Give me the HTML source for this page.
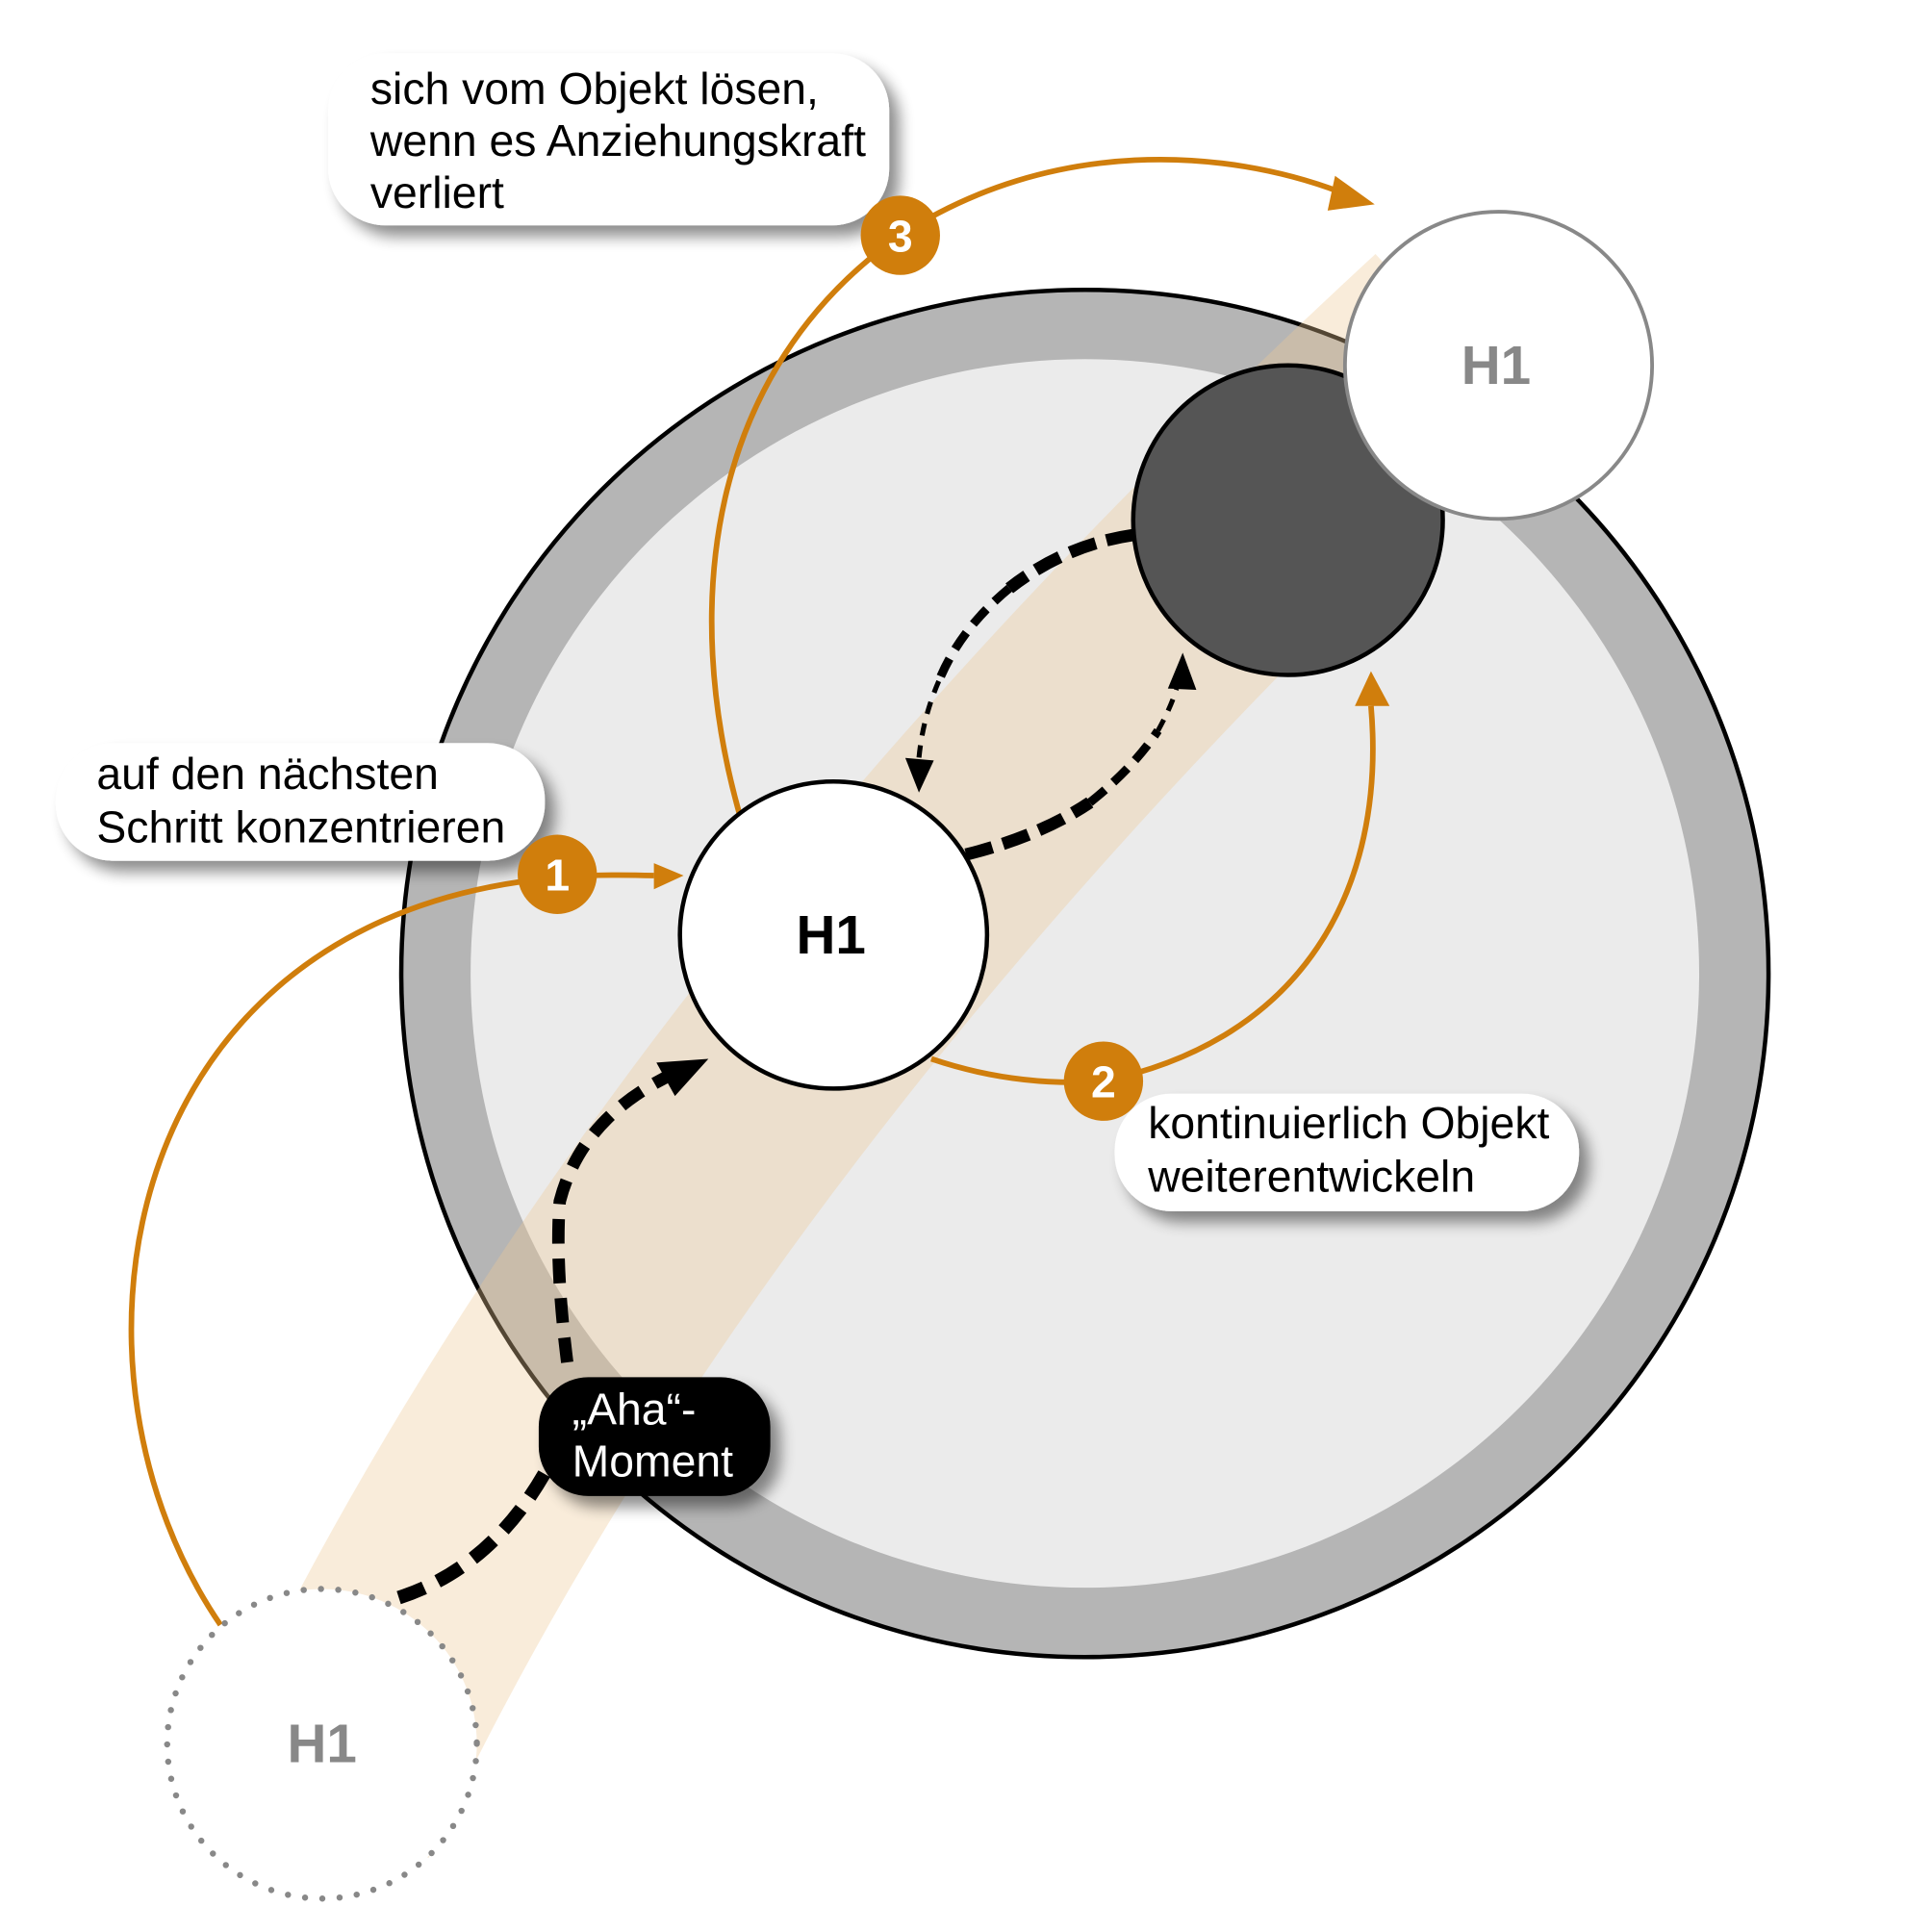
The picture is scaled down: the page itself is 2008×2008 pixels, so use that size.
<!DOCTYPE html>
<html><head><meta charset="utf-8"><style>
html,body{margin:0;padding:0;background:#fff}
svg{display:block}
text{font-family:"Liberation Sans",Arial,sans-serif}
</style></head><body>
<svg width="2008" height="2008" viewBox="0 0 1560 1560" xmlns="http://www.w3.org/2000/svg">
<defs>
<filter id="sh" x="-20%" y="-20%" width="150%" height="160%">
<feGaussianBlur in="SourceAlpha" stdDeviation="6"/>
<feOffset dx="8" dy="9"/>
<feComponentTransfer><feFuncA type="linear" slope="0.45"/></feComponentTransfer>
<feMerge><feMergeNode/><feMergeNode in="SourceGraphic"/></feMerge>
</filter>
</defs>
<circle cx="876" cy="786" r="552" fill="#b5b5b5" stroke="#000" stroke-width="3.5"/>
<circle cx="876" cy="786" r="496" fill="#ebebeb"/>
<path d="M260 1460 Q 540 860 1175 275" fill="none" stroke="rgba(238,200,150,0.35)" stroke-width="190"/>
<g fill="none" stroke="#d07e0c" stroke-width="4.5">
<path d="M178 1312 C 40 1110, 90 760, 420 712 Q 460 705 528 707"/>
<path d="M597 657 C 550 490, 570 300, 727 190 C 850 110, 990 120, 1082 155"/>
<path d="M752 855 Q 820 878 891 873 C 1050 840, 1120 720, 1107 570"/>
</g>
<path d="M528 697 L552 707 L528 718 z" fill="#d07e0c"/>
<path d="M1078 142 L1110 165 L1072 170 z" fill="#d07e0c"/>
<path d="M1094 570 L1107 542 L1122 570 z" fill="#d07e0c"/>
<circle cx="260" cy="1408" r="125" fill="#fff" stroke="#888" stroke-width="5" stroke-dasharray="0 14" stroke-linecap="round"/>
<text x="260" y="1423" font-size="44" font-weight="bold" fill="#888" text-anchor="middle">H1</text>
<circle cx="1040" cy="420" r="125" fill="#555" stroke="#000" stroke-width="3.5"/>
<circle cx="1210" cy="295" r="124" fill="#fff" stroke="#888" stroke-width="3"/>
<text x="1208" y="310" font-size="44" font-weight="bold" fill="#888" text-anchor="middle">H1</text>
<circle cx="673" cy="755" r="124" fill="#fff" stroke="#000" stroke-width="3.5"/>
<text x="671" y="770" font-size="44" font-weight="bold" fill="#000" text-anchor="middle">H1</text>
<g fill="none" stroke="#000">
<path d="M322 1290 Q 400 1265 445 1180" stroke-width="11" stroke-dasharray="22 12"/>
<path d="M458 1100 Q 448 1020 452 970 Q 470 900 548 865" stroke-width="10" stroke-dasharray="20 12"/>
<path d="M780 690 Q 840 675 880 648" stroke-width="10" stroke-dasharray="22 9"/>
<path d="M880 648 Q 915 620 935 590" stroke-width="7" stroke-dasharray="16 9"/>
<path d="M935 590 Q 946 570 950 556" stroke-width="4" stroke-dasharray="10 8"/>
<path d="M915 432 Q 860 440 815 475" stroke-width="10" stroke-dasharray="22 9"/>
<path d="M815 475 Q 775 508 758 550" stroke-width="7" stroke-dasharray="16 9"/>
<path d="M758 550 Q 745 580 742 612" stroke-width="4" stroke-dasharray="10 8"/>
</g>
<path d="M530 858 L572 855 L545 885 z" fill="#000"/>
<path d="M731 612 L742 640 L754 614 z" fill="#000"/>
<path d="M943 556 L955 527 L966 557 z" fill="#000"/>
<g filter="url(#sh)">
<rect x="265" y="43" width="453" height="139" rx="46" fill="#fff"/>
<rect x="45" y="600" width="395" height="95" rx="46" fill="#fff"/>
<rect x="900" y="883" width="375" height="95" rx="46" fill="#fff"/>
<rect x="435" y="1112" width="187" height="96" rx="40" fill="#000"/>
</g>
<g font-size="36" font-weight="bold" fill="#fff" text-anchor="middle">
<circle cx="727" cy="190" r="32" fill="#d07e0c"/><text x="727" y="203">3</text>
<circle cx="450" cy="706" r="32" fill="#d07e0c"/><text x="450" y="719">1</text>
<circle cx="891" cy="873" r="32" fill="#d07e0c"/><text x="891" y="886">2</text>
</g>
<g font-size="36" fill="#000">
<text x="299" y="84">sich vom Objekt lösen,</text>
<text x="299" y="126">wenn es Anziehungskraft</text>
<text x="299" y="168">verliert</text>
<text x="78" y="637">auf den nächsten</text>
<text x="78" y="680">Schritt konzentrieren</text>
<text x="927" y="919">kontinuierlich Objekt</text>
<text x="927" y="962">weiterentwickeln</text>
<text x="462" y="1150" fill="#fff">„Aha“-</text>
<text x="462" y="1192" fill="#fff">Moment</text>
</g>
</svg>
</body></html>
